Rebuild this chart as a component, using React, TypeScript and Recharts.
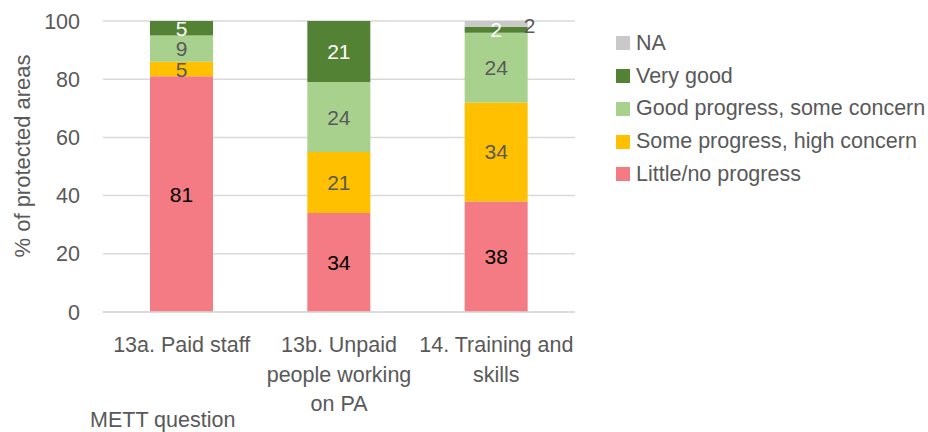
import { BarChart, Bar, XAxis, YAxis, CartesianGrid, LabelList } from "recharts";

const categories = [
  "13a. Paid staff",
  "13b. Unpaid\npeople working\non PA",
  "14. Training and\nskills",
];
const littleProgress = [81, 34, 38];
const someProgress = [5, 21, 34];
const goodProgress = [9, 24, 24];
const veryGood = [5, 21, 2];
const na = [0, 0, 2];
const yTicks = [0, 20, 40, 60, 80, 100];

const FONT = "'Liberation Sans', Arial, sans-serif";
const GREY_TEXT = "#595959";

const series = [
  { key: "little", name: "Little/no progress", color: "#f47b83", label: "#000000" },
  { key: "some", name: "Some progress, high concern", color: "#ffc000", label: GREY_TEXT },
  { key: "good", name: "Good progress, some concern", color: "#a9d18e", label: GREY_TEXT },
  { key: "veryGood", name: "Very good", color: "#548235", label: "#ffffff" },
  { key: "na", name: "NA", color: "#c9c9c9", label: GREY_TEXT },
];

const data = categories.map((name, i) => ({
  name,
  little: littleProgress[i],
  some: someProgress[i],
  good: goodProgress[i],
  veryGood: veryGood[i],
  na: na[i],
}));

function centerLabel(fill: string) {
  return (props: any) => {
    const { x, y, width, height, value } = props;
    if (!value) return null;
    return (
      <text
        x={Number(x) + Number(width) / 2}
        y={Number(y) + Number(height) / 2}
        textAnchor="middle"
        dominantBaseline="central"
        fill={fill}
        fontSize={21}
        fontFamily={FONT}
      >
        {value}
      </text>
    );
  };
}

// NA label sits on the right edge of the bar, like Excel did it
function sideLabel(props: any) {
  const { x, y, width, height, value } = props;
  if (!value) return null;
  return (
    <text
      x={Number(x) + Number(width) + 2}
      y={Number(y) + Number(height) / 2 + 2}
      textAnchor="middle"
      dominantBaseline="central"
      fill={GREY_TEXT}
      fontSize={21}
      fontFamily={FONT}
    >
      {value}
    </text>
  );
}

function CategoryTick(props: any) {
  const { x, y, payload } = props;
  const lines = String(payload.value).split("\n");
  return (
    <text x={x} y={y} textAnchor="middle" fill={GREY_TEXT} fontSize={21.5} fontFamily={FONT}>
      {lines.map((line, i) => (
        <tspan key={i} x={x} dy={i === 0 ? 38 : 29.5}>
          {line}
        </tspan>
      ))}
    </text>
  );
}

export default function App() {
  return (
    <div style={{ position: "absolute", left: 0, top: 0, width: 928, height: 432, background: "#fff" }}>
      <BarChart
        width={928}
        height={432}
        data={data}
        margin={{ top: 21, right: 353, left: 43, bottom: 20 }}
        barSize={63}
      >
        <CartesianGrid vertical={false} stroke="#d9d9d9" strokeWidth={1.5} />
        <XAxis
          dataKey="name"
          height={100}
          axisLine={{ stroke: "#d9d9d9", strokeWidth: 1.5 }}
          tickLine={false}
          tickSize={0}
          tick={<CategoryTick />}
          interval={0}
          label={{
            content: () => (
              <text x={90} y={427} fill={GREY_TEXT} fontSize={21.5} fontFamily={FONT}>
                METT question
              </text>
            ),
          }}
        />
        <YAxis
          width={60}
          domain={[0, 100]}
          ticks={yTicks}
          axisLine={false}
          tickLine={false}
          tickSize={0}
          tickMargin={23}
          tick={{ fill: GREY_TEXT, fontSize: 21.5, fontFamily: FONT }}
          label={{
            content: () => (
              <text
                x={22}
                y={156}
                transform="rotate(-90 22 156)"
                textAnchor="middle"
                dominantBaseline="central"
                fill={GREY_TEXT}
                fontSize={22}
                fontFamily={FONT}
              >
                % of protected areas
              </text>
            ),
          }}
        />
        {series.map((s) => (
          <Bar key={s.key} dataKey={s.key} name={s.name} stackId="a" fill={s.color} isAnimationActive={false}>
            <LabelList dataKey={s.key} content={s.key === "na" ? sideLabel : centerLabel(s.label)} />
          </Bar>
        ))}
      </BarChart>
      <div style={{ position: "absolute", left: 616, top: 27, fontFamily: FONT, fontSize: 21.5, color: GREY_TEXT }}>
        {[...series].reverse().map((s) => (
          <div key={s.key} style={{ display: "flex", alignItems: "center", height: 32.75, whiteSpace: "nowrap" }}>
            <span style={{ width: 14, height: 14, background: s.color, marginRight: 6, display: "inline-block" }} />
            {s.name}
          </div>
        ))}
      </div>
    </div>
  );
}
